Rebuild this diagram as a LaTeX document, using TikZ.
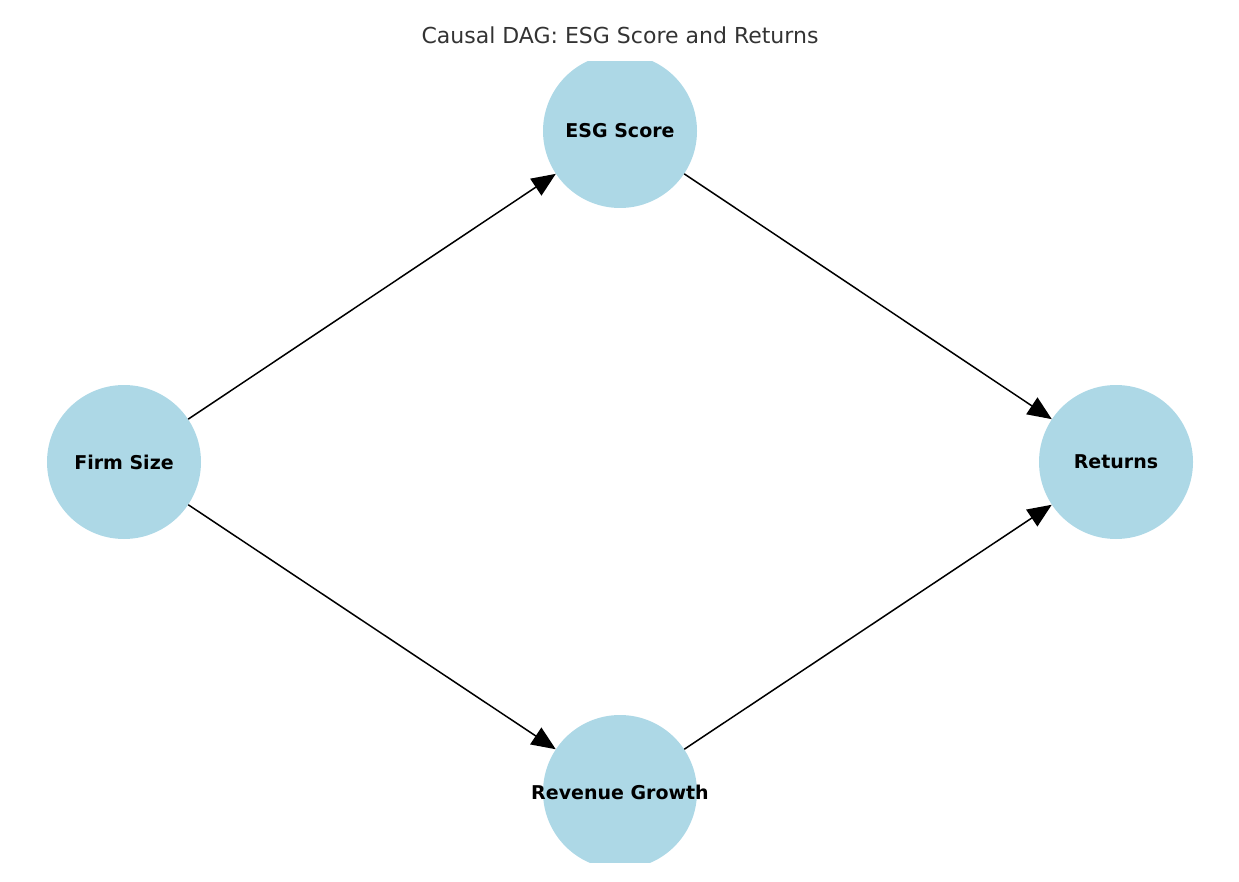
\documentclass[tikz,border=0pt]{standalone}
\usepackage{fontspec}
\setmainfont{DejaVu Sans}
\usetikzlibrary{arrows.meta}
\definecolor{nodeblue}{RGB}{173,216,230}
\definecolor{titlegray}{RGB}{51,51,51}
\tikzset{
  var/.style={circle,fill=nodeblue,minimum size=154pt,inner sep=0pt},
  lbl/.style={font=\fontsize{19}{22}\selectfont\bfseries},
  edge/.style={line width=1.5pt,-{Triangle[length=24pt,width=20pt]}}
}
\begin{document}
\begin{tikzpicture}[x=1pt,y=-1pt]
    \useasboundingbox (0,0) rectangle (1239,882);
    \node[text=titlegray,font=\fontsize{22}{26}\selectfont] (title) at (620,35) {Causal DAG: ESG Score and Returns};
    
    % circles clipped to the plot area
    \begin{scope}
        \clip (0,62) rectangle (1239,862);
        \node[var] (esg) at (620,131) {};
        \node[var] (firm) at (124,462) {};
        \node[var] (ret) at (1116,462) {};
        \node[var] (rev) at (620,792) {};
    \end{scope}
    
    % labels
    \node[lbl] at (esg) {ESG Score};
    \node[lbl] at (firm) {Firm Size};
    \node[lbl] at (ret) {Returns};
    \node[lbl] at (rev) {Revenue Growth};
    
    % edges
    \draw[edge] (firm) -- (esg);
    \draw[edge] (firm) -- (rev);
    \draw[edge] (esg) -- (ret);
    \draw[edge] (rev) -- (ret);
\end{tikzpicture}
\end{document}
